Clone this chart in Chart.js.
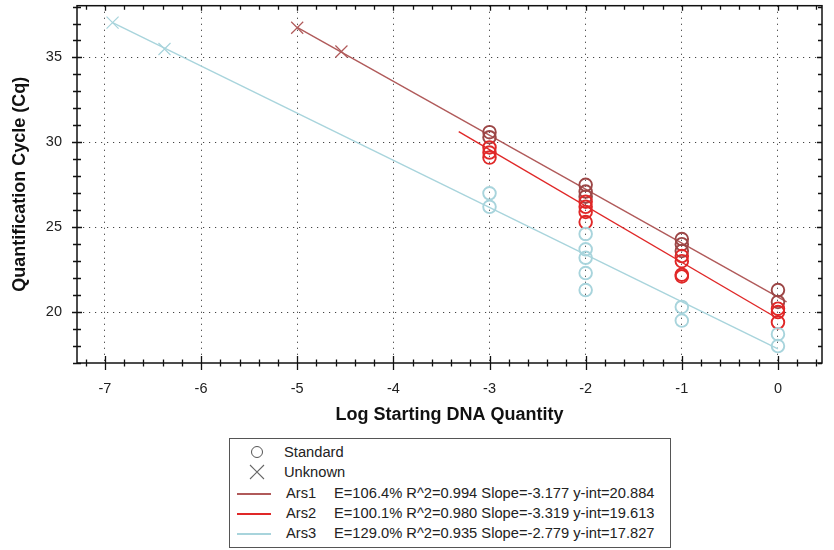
<!DOCTYPE html>
<html><head><meta charset="utf-8">
<script src="https://cdn.jsdelivr.net/npm/chart.js@4"></script>
<style>
html,body{margin:0;padding:0;background:#fff;width:834px;height:550px;overflow:hidden;font-family:"Liberation Sans",Arial,sans-serif;}
#wrap{position:absolute;left:0;top:-4px;width:834px;height:434px;}
#wrap canvas{display:block;}
#legend{position:absolute;left:229px;top:438px;width:442px;height:110px;border:1px solid #555;box-sizing:border-box;font-size:14.7px;color:#222;}
.row{position:absolute;left:0;width:440px;height:20px;line-height:20px;}
.sym{position:absolute;}
.circ{left:21px;top:4px;width:10px;height:10px;border:1.4px solid #555;border-radius:50%;}
.lab{position:absolute;left:54px;}
.ln{position:absolute;left:7px;top:10px;width:34px;height:1.6px;}
.name{position:absolute;left:56px;}
.stat{position:absolute;left:104px;white-space:nowrap;}
</style></head>
<body>
<div id="wrap"><canvas id="c" width="834" height="434"></canvas></div>
<div id="legend">
  <div class="row" style="top:3px"><div class="sym circ"></div><span class="lab">Standard</span></div>
  <div class="row" style="top:23px"><svg class="sym" style="left:19px;top:2px" width="16" height="16"><path d="M1 1 L15 15 M15 1 L1 15" stroke="#666" stroke-width="1.1" fill="none"/></svg><span class="lab">Unknown</span></div>
  <div class="row" style="top:44px"><div class="ln" style="background:#b05a5a"></div><span class="name">Ars1</span><span class="stat">E=106.4% R^2=0.994 Slope=-3.177 y-int=20.884</span></div>
  <div class="row" style="top:64px"><div class="ln" style="background:#e02828"></div><span class="name">Ars2</span><span class="stat">E=100.1% R^2=0.980 Slope=-3.319 y-int=19.613</span></div>
  <div class="row" style="top:84px"><div class="ln" style="background:#a8d4dc"></div><span class="name">Ars3</span><span class="stat">E=129.0% R^2=0.935 Slope=-2.779 y-int=17.827</span></div>
</div>
<script>
// ---- data ----
const ars1StdX = [-3, -3, -2, -2, -2, -1, -1, -1, 0, 0];
const ars1StdY = [30.6, 30.3, 27.5, 27.1, 26.8, 24.3, 24.0, 23.6, 21.3, 20.6];
const ars2StdX = [-3, -3, -3, -2, -2, -2, -2, -1, -1, -1, -1, 0, 0, 0];
const ars2StdY = [29.7, 29.4, 29.1, 26.5, 26.2, 25.9, 25.3, 23.3, 23.0, 22.2, 22.1, 20.2, 20.0, 19.4];
const ars3StdX = [-3, -3, -2, -2, -2, -2, -2, -1, -1, 0, 0];
const ars3StdY = [27.0, 26.2, 24.6, 23.7, 23.2, 22.3, 21.3, 20.3, 19.5, 18.7, 18.0];
const ars1UnkX = [-5.0, -4.54];
const ars1UnkY = [36.75, 35.35];
const ars3UnkX = [-6.92, -6.38];
const ars3UnkY = [37.05, 35.5];
const ars1LineX = [-5.0, 0.09];
const ars1LineY = [36.77, 20.6];
const ars2LineX = [-3.32, -0.02];
const ars2LineY = [30.63, 19.68];
const ars3LineX = [-6.92, 0.0];
const ars3LineY = [37.06, 17.83];
const xTickStep = 1, yTickStep = 5;

const pts = (xs, ys) => xs.map((x, i) => ({x: x, y: ys[i]}));
const C1 = '#9c4646', C1L = '#b05a5a', C2 = '#e02828', C3 = '#a8d4dc';

const lineDs = (xs, ys, col) => ({type: 'line', data: pts(xs, ys), borderColor: col, borderWidth: 1.4, pointRadius: 0, fill: false, showLine: true, order: 2});
const stdDs = (xs, ys, col) => ({data: pts(xs, ys), borderColor: col, backgroundColor: 'rgba(0,0,0,0)', pointStyle: 'circle', pointRadius: 6.3, borderWidth: 1.9, showLine: false, order: 1});
const unkDs = (xs, ys, col) => ({data: pts(xs, ys), borderColor: col, backgroundColor: col, pointStyle: 'crossRot', pointRadius: 8.5, borderWidth: 1.2, showLine: false, order: 1});

const axisPlugin = {
  id: 'axisTicks',
  afterDraw(chart) {
    const {ctx, chartArea: a, scales: {x, y}} = chart;
    ctx.save();
    ctx.strokeStyle = '#111';
    ctx.lineWidth = 1.5;
    ctx.strokeRect(a.left, a.top, a.right - a.left, a.bottom - a.top);
    ctx.lineWidth = 1.3;
    ctx.beginPath();
    for (let k = Math.ceil(x.min * 5); k <= Math.floor(x.max * 5); k++) {
      const v = k / 5, px = Math.round(x.getPixelForValue(v)) + 0.5;
      const major = k % 5 === 0;
      const L = major ? 7 : 3.5;
      ctx.moveTo(px, a.bottom - L); ctx.lineTo(px, a.bottom + L);
      ctx.moveTo(px, a.top); ctx.lineTo(px, a.top + (major ? 5 : 4));
    }
    for (let k = Math.ceil(y.min); k <= Math.floor(y.max); k++) {
      const py = Math.round(y.getPixelForValue(k)) + 0.5;
      const major = k % 5 === 0;
      const L = major ? 5 : 4;
      ctx.moveTo(a.left - L, py); ctx.lineTo(a.left + L, py);
      ctx.moveTo(a.right, py); ctx.lineTo(a.right - (major ? 5 : 4), py);
    }
    ctx.stroke();
    ctx.restore();
  }
};

new Chart(document.getElementById('c'), {
  type: 'scatter',
  data: {
    datasets: [
      lineDs(ars1LineX, ars1LineY, C1L),
      lineDs(ars2LineX, ars2LineY, C2),
      lineDs(ars3LineX, ars3LineY, C3),
      stdDs(ars3StdX, ars3StdY, C3),
      stdDs(ars2StdX, ars2StdY, C2),
      stdDs(ars1StdX, ars1StdY, C1),
      unkDs(ars1UnkX, ars1UnkY, C1L),
      unkDs(ars3UnkX, ars3UnkY, C3)
    ]
  },
  options: {
    responsive: false,
    animation: false,
    layout: {padding: {left: 0, right: 12, top: 0, bottom: 0}},
    plugins: {legend: {display: false}, tooltip: {enabled: false}},
    scales: {
      x: {
        type: 'linear', min: -7.29, max: 0.458,
        ticks: {stepSize: xTickStep, includeBounds: false, color: '#222', font: {size: 14.5, family: '"Liberation Sans", Arial'}, padding: 17},
        grid: {color: '#444', lineWidth: 1, drawTicks: false},
        border: {display: false, dash: [1.2, 4.8]},
        title: {display: true, text: 'Log Starting DNA Quantity', color: '#111', font: {size: 18, weight: 'bold', family: '"Liberation Sans", Arial'}, padding: {top: 0, bottom: 4}},
        afterFit(s) { s.height = 67; s.paddingLeft = 0; s.paddingRight = 0; }
      },
      y: {
        type: 'linear', min: 17.0, max: 38.05,
        ticks: {stepSize: yTickStep, includeBounds: false, color: '#222', font: {size: 14.5, family: '"Liberation Sans", Arial'}, padding: 15},
        grid: {color: '#444', lineWidth: 1, drawTicks: false},
        border: {display: false, dash: [1.2, 4.8]},
        title: {display: true, text: 'Quantification Cycle (Cq)', color: '#111', font: {size: 18, weight: 'bold', family: '"Liberation Sans", Arial'}, padding: {top: 9, bottom: 0}},
        afterFit(s) { s.width = 77; s.paddingTop = 0; s.paddingBottom = 0; }
      }
    }
  },
  plugins: [axisPlugin]
});
</script>
</body></html>
